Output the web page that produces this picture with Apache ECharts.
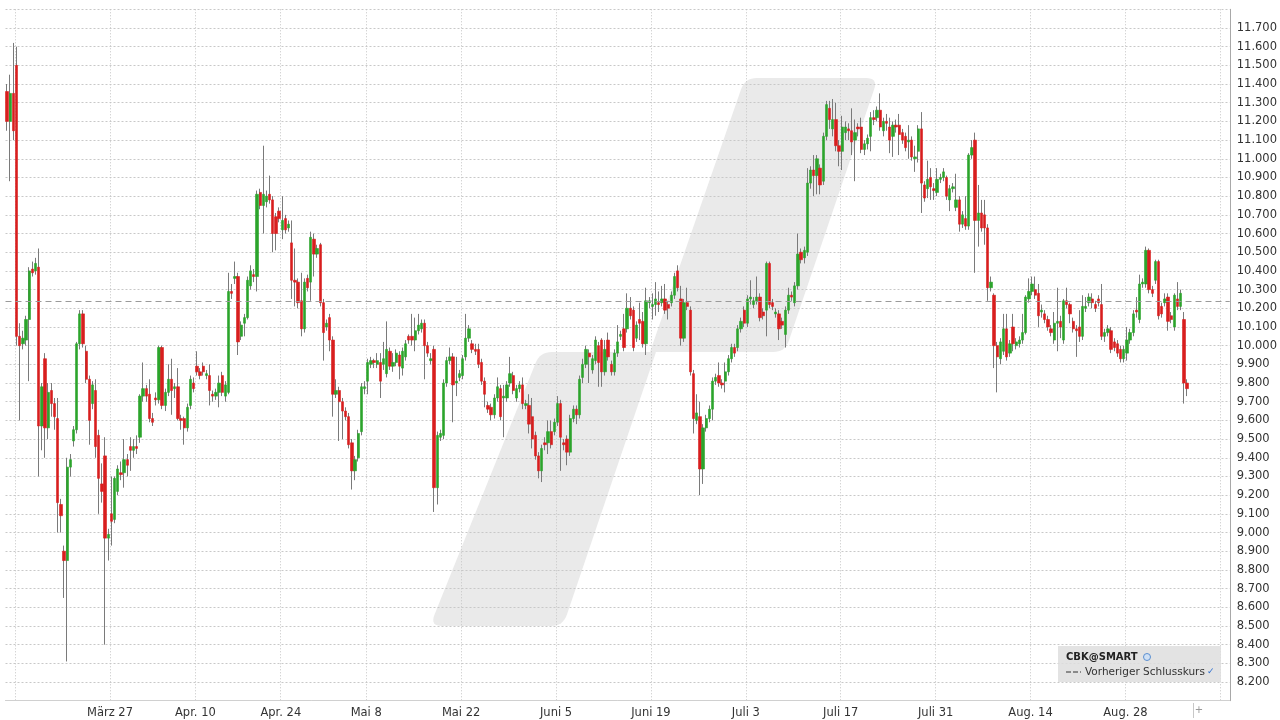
<!DOCTYPE html>
<html><head><meta charset="utf-8">
<script src="https://cdn.jsdelivr.net/npm/echarts@6/dist/echarts.min.js"></script>
<style>html,body{margin:0;padding:0;background:#fff}#c{width:1280px;height:720px}</style>
</head><body><div id="c"></div>
<script>
// ---- DATA ----
// candles: [open, close, low, high], three bars per trading day, starting 2023-03-10
const candles = [
[11.36,11.20,11.15,11.40],[11.20,11.35,10.88,11.45],[11.35,11.15,11.10,11.62],[11.50,10.05,10.00,11.60],[10.05,10.00,9.60,10.12],[10.01,10.04,9.98,10.08],[10.03,10.14,10.00,10.16],[10.14,10.40,9.81,10.42],[10.41,10.39,10.37,10.45],[10.40,10.44,10.38,10.47],
[10.42,9.57,9.30,10.52],[9.57,9.78,9.44,9.80],[9.93,9.56,9.40,9.96],[9.56,9.75,9.50,9.80],[9.76,9.69,9.62,9.80],[9.69,9.62,9.55,9.72],[9.61,9.16,9.00,9.72],[9.15,9.09,9.00,9.18],[8.90,8.85,8.65,8.93],[8.85,9.35,8.31,9.40],
[9.35,9.39,9.30,9.42],[9.49,9.55,9.46,9.57],[9.55,10.01,9.53,10.02],[10.01,10.17,9.98,10.19],[10.17,10.01,9.99,10.19],[9.97,9.82,9.80,10.00],[9.82,9.60,9.47,9.84],[9.69,9.79,9.66,9.81],[9.76,9.46,9.40,9.82],[9.52,9.29,9.10,9.55],
[9.26,9.22,9.16,9.37],[9.41,8.97,8.40,9.51],[8.97,8.99,8.85,9.02],[9.10,9.06,8.93,9.30],[9.07,9.29,9.05,9.30],[9.22,9.34,9.20,9.36],[9.32,9.31,9.28,9.38],[9.32,9.39,9.24,9.50],[9.39,9.36,9.30,9.42],[9.46,9.44,9.33,9.51],
[9.44,9.46,9.40,9.50],[9.46,9.45,9.42,9.52],[9.51,9.73,9.48,9.74],[9.73,9.77,9.70,9.91],[9.77,9.73,9.70,9.79],[9.74,9.61,9.59,9.82],[9.61,9.59,9.57,9.64],[9.72,9.71,9.68,9.75],[9.71,9.99,9.69,10.00],[9.99,9.68,9.66,10.00],
[9.68,9.75,9.65,9.77],[9.75,9.82,9.73,9.90],[9.82,9.76,9.63,9.93],[9.77,9.78,9.72,9.80],[9.78,9.61,9.60,9.88],[9.61,9.60,9.55,9.63],[9.61,9.56,9.47,9.62],[9.56,9.67,9.54,9.69],[9.68,9.82,9.66,9.84],[9.80,9.77,9.75,9.83],
[9.89,9.86,9.84,9.97],[9.86,9.84,9.82,9.88],[9.89,9.86,9.84,9.91],[9.84,9.85,9.82,9.87],[9.84,9.76,9.68,9.90],[9.74,9.73,9.70,9.76],[9.73,9.75,9.71,9.77],[9.75,9.80,9.67,9.84],[9.84,9.75,9.73,9.86],[9.73,9.79,9.70,9.81],
[9.75,10.29,9.74,10.39],[10.29,10.28,10.25,10.33],[10.36,10.37,10.33,10.45],[10.37,10.02,9.95,10.39],[10.05,10.11,10.03,10.13],[10.12,10.15,10.05,10.17],[10.15,10.35,10.14,10.37],[10.32,10.40,10.30,10.43],[10.38,10.37,10.34,10.41],[10.37,10.81,10.29,10.83],
[10.82,10.75,10.73,10.84],[10.75,10.81,10.60,11.07],[10.77,10.80,10.74,10.83],[10.81,10.78,10.76,10.91],[10.78,10.60,10.50,10.80],[10.69,10.60,10.51,10.71],[10.72,10.68,10.66,10.74],[10.62,10.67,10.57,10.80],[10.68,10.62,10.60,10.70],[10.63,10.65,10.61,10.67],
[10.55,10.35,10.25,10.67],[10.35,10.34,10.21,10.52],[10.34,10.23,10.20,10.36],[10.24,10.09,10.05,10.39],[10.09,10.34,10.07,10.36],[10.36,10.31,10.29,10.38],[10.34,10.58,10.24,10.61],[10.57,10.49,10.37,10.60],[10.49,10.52,10.47,10.54],[10.54,10.23,10.21,10.55],
[10.23,10.07,9.92,10.25],[10.10,10.12,10.08,10.14],[10.15,10.03,9.97,10.17],[10.03,9.74,9.62,10.05],[9.74,9.76,9.72,9.82],[9.76,9.70,9.49,9.78],[9.70,9.65,9.50,9.72],[9.65,9.62,9.60,9.67],[9.62,9.47,9.45,9.64],[9.48,9.33,9.23,9.50],
[9.33,9.39,9.28,9.41],[9.40,9.53,9.38,9.55],[9.54,9.78,9.52,9.80],[9.77,9.78,9.74,9.81],[9.81,9.91,9.74,9.93],[9.90,9.92,9.88,9.94],[9.92,9.91,9.88,9.93],[9.90,9.92,9.88,9.96],[9.91,9.81,9.72,9.96],[9.90,9.93,9.87,10.02],
[9.85,9.98,9.83,10.13],[9.97,9.89,9.87,9.99],[9.89,9.91,9.86,9.96],[9.91,9.96,9.89,9.98],[9.95,9.89,9.82,9.97],[9.88,9.97,9.84,9.99],[9.94,10.01,9.92,10.03],[10.05,10.03,10.01,10.06],[10.05,10.03,10.00,10.17],[10.03,10.08,9.97,10.15],
[10.08,10.11,10.06,10.17],[10.09,10.12,10.07,10.14],[10.12,10.00,9.82,10.14],[10.00,9.96,9.94,10.02],[9.92,9.93,9.90,9.96],[9.98,9.24,9.11,10.00],[9.24,9.52,9.15,9.54],[9.51,9.53,9.49,9.55],[9.52,9.80,9.50,9.82],[9.80,9.92,9.78,9.94],
[9.92,9.94,9.90,9.99],[9.94,9.79,9.59,9.96],[9.80,9.81,9.73,9.94],[9.83,9.85,9.81,9.87],[9.84,9.93,9.82,9.95],[9.94,10.04,9.92,10.17],[10.04,10.09,10.02,10.11],[10.01,9.98,9.96,10.03],[9.98,9.97,9.95,10.01],[9.98,9.90,9.88,10.01],
[9.91,9.81,9.79,9.93],[9.81,9.74,9.67,9.83],[9.68,9.66,9.64,9.70],[9.67,9.63,9.60,9.69],[9.63,9.72,9.61,9.74],[9.72,9.78,9.70,9.83],[9.77,9.62,9.60,9.79],[9.72,9.73,9.51,9.79],[9.72,9.79,9.70,9.81],[9.80,9.85,9.78,9.94],
[9.84,9.76,9.74,9.86],[9.72,9.77,9.70,9.79],[9.77,9.79,9.75,9.81],[9.79,9.69,9.66,9.83],[9.68,9.69,9.66,9.71],[9.68,9.58,9.53,9.74],[9.62,9.50,9.45,9.72],[9.52,9.41,9.39,9.54],[9.41,9.33,9.29,9.43],[9.33,9.45,9.27,9.47],
[9.48,9.47,9.44,9.51],[9.48,9.54,9.42,9.60],[9.54,9.47,9.45,9.60],[9.54,9.59,9.52,9.61],[9.59,9.69,9.57,9.73],[9.69,9.51,9.33,9.71],[9.48,9.47,9.44,9.50],[9.50,9.43,9.36,9.52],[9.43,9.61,9.41,9.63],[9.61,9.66,9.59,9.68],
[9.66,9.63,9.58,9.68],[9.63,9.82,9.61,9.84],[9.83,9.90,9.80,9.93],[9.90,9.98,9.88,10.00],[9.96,9.94,9.80,9.98],[9.87,9.93,9.85,9.95],[9.92,10.03,9.90,10.05],[10.00,9.91,9.78,10.02],[10.03,9.86,9.78,10.04],[9.86,9.98,9.84,10.03],
[10.03,9.94,9.92,10.07],[9.90,9.86,9.84,9.92],[9.86,9.96,9.84,9.98],[9.96,10.02,9.94,10.11],[10.05,10.06,10.03,10.08],[10.09,9.99,9.97,10.17],[10.09,10.20,10.07,10.28],[10.20,10.16,10.14,10.26],[10.19,9.99,9.97,10.21],[10.04,10.11,10.02,10.13],
[10.14,10.12,10.03,10.23],[10.13,10.01,9.99,10.18],[10.01,10.24,9.95,10.31],[10.23,10.24,10.20,10.26],[10.21,10.22,10.14,10.28],[10.22,10.25,10.16,10.34],[10.23,10.22,10.18,10.29],[10.23,10.25,10.21,10.32],[10.25,10.19,10.17,10.33],[10.22,10.20,10.14,10.24],
[10.23,10.27,10.21,10.29],[10.27,10.37,10.25,10.39],[10.40,10.31,10.29,10.43],[10.25,10.04,10.00,10.32],[10.04,10.23,10.02,10.25],[10.23,10.21,10.19,10.31],[10.19,9.86,9.84,10.21],[9.85,9.61,9.53,9.87],[9.60,9.64,9.58,9.74],[9.62,9.34,9.20,9.70],
[9.34,9.56,9.26,9.58],[9.56,9.61,9.54,9.63],[9.61,9.66,9.59,9.68],[9.66,9.81,9.60,9.83],[9.81,9.83,9.79,9.85],[9.84,9.80,9.78,9.91],[9.80,9.79,9.77,9.82],[9.81,9.86,9.75,9.91],[9.86,9.93,9.84,9.95],[9.93,9.99,9.91,10.01],
[9.99,9.96,9.94,10.01],[9.99,10.09,9.97,10.11],[10.09,10.13,10.07,10.15],[10.19,10.12,10.10,10.21],[10.12,10.25,10.10,10.27],[10.25,10.26,10.22,10.35],[10.22,10.24,10.20,10.26],[10.24,10.26,10.22,10.37],[10.26,10.15,10.13,10.28],[10.18,10.16,10.14,10.20],
[10.19,10.44,10.05,10.45],[10.44,10.22,10.20,10.45],[10.23,10.21,10.19,10.25],[10.17,10.18,10.15,10.20],[10.17,10.09,10.03,10.19],[10.13,10.11,10.09,10.15],[10.06,10.19,9.99,10.21],[10.19,10.27,10.17,10.31],[10.27,10.26,10.24,10.29],[10.23,10.32,10.21,10.34],
[10.32,10.49,10.30,10.60],[10.50,10.46,10.44,10.52],[10.47,10.51,10.44,10.53],[10.50,10.87,10.48,10.95],[10.87,10.94,10.84,10.96],[10.94,10.91,10.80,11.02],[10.91,11.00,10.81,11.02],[10.95,10.86,10.81,10.97],[10.88,11.12,10.86,11.14],[11.12,11.29,11.10,11.31],
[11.27,11.21,11.16,11.31],[11.16,11.21,11.12,11.32],[11.21,11.07,11.04,11.30],[11.07,11.04,10.96,11.10],[11.04,11.17,10.94,11.23],[11.14,11.17,11.10,11.20],[11.16,11.15,11.10,11.19],[11.15,11.09,11.02,11.27],[11.10,11.14,10.88,11.21],[11.17,11.16,11.12,11.19],
[11.17,11.05,11.03,11.22],[11.05,11.08,11.02,11.10],[11.08,11.11,11.05,11.13],[11.12,11.22,11.04,11.25],[11.22,11.21,11.18,11.26],[11.22,11.26,11.20,11.28],[11.26,11.17,11.15,11.35],[11.15,11.20,11.12,11.22],[11.20,11.19,11.15,11.24],[11.17,11.10,11.03,11.22],
[11.12,11.18,11.01,11.20],[11.18,11.17,11.14,11.21],[11.18,11.13,11.02,11.24],[11.14,11.10,11.08,11.16],[11.12,11.06,11.04,11.14],[11.09,11.10,11.00,11.18],[11.10,11.01,10.99,11.12],[11.00,11.01,10.93,11.07],[11.04,11.16,10.98,11.18],[11.16,10.87,10.71,11.25],
[10.86,10.79,10.77,10.88],[10.84,10.89,10.79,10.99],[10.90,10.85,10.78,10.95],[10.84,10.83,10.78,10.87],[10.82,10.89,10.80,10.95],[10.89,10.90,10.87,10.92],[10.90,10.93,10.88,10.95],[10.90,10.80,10.78,10.91],[10.78,10.84,10.72,10.86],[10.84,10.85,10.82,10.87],
[10.74,10.78,10.72,10.92],[10.78,10.65,10.61,10.80],[10.65,10.70,10.63,10.72],[10.68,10.64,10.62,10.80],[10.64,11.02,10.62,11.03],[11.02,11.06,11.00,11.10],[11.10,10.67,10.39,11.14],[10.67,10.71,10.53,10.86],[10.71,10.63,10.61,10.78],[10.70,10.63,10.54,10.78],
[10.63,10.31,10.24,10.65],[10.31,10.34,10.29,10.37],[10.27,10.00,9.88,10.28],[10.00,9.94,9.75,10.02],[9.93,10.02,9.90,10.04],[9.97,10.09,9.95,10.17],[10.09,9.94,9.92,10.17],[9.96,10.01,9.94,10.03],[10.10,10.01,9.97,10.17],[10.00,10.02,9.98,10.04],
[10.01,10.03,9.99,10.05],[10.03,10.07,10.01,10.17],[10.07,10.26,10.06,10.27],[10.25,10.29,10.23,10.36],[10.29,10.33,10.27,10.37],[10.30,10.27,10.25,10.37],[10.28,10.16,10.10,10.33],[10.18,10.19,10.15,10.22],[10.17,10.14,10.12,10.19],[10.14,10.10,10.08,10.16],
[10.09,10.07,10.05,10.11],[10.03,10.12,10.01,10.18],[10.12,10.13,9.97,10.31],[10.13,10.10,10.04,10.16],[10.03,10.24,10.01,10.25],[10.24,10.22,10.20,10.31],[10.22,10.17,10.12,10.23],[10.13,10.09,10.07,10.15],[10.09,10.08,9.94,10.11],[10.10,10.05,10.02,10.19],
[10.05,10.21,10.03,10.27],[10.20,10.21,10.18,10.26],[10.23,10.26,10.21,10.28],[10.25,10.23,10.20,10.28],[10.22,10.20,10.18,10.24],[10.25,10.23,10.21,10.27],[10.22,10.05,10.03,10.33],[10.05,10.07,10.02,10.09],[10.07,10.09,10.05,10.11],[10.08,9.98,9.96,10.10],
[10.02,9.99,9.97,10.04],[10.01,9.96,9.94,10.03],[9.98,9.93,9.91,10.00],[9.93,9.98,9.91,10.00],[9.96,10.03,9.92,10.10],[10.03,10.07,10.01,10.09],[10.07,10.17,10.05,10.19],[10.19,10.18,10.15,10.26],[10.14,10.33,10.12,10.38],[10.33,10.34,10.31,10.36],
[10.33,10.51,10.31,10.53],[10.51,10.30,10.28,10.52],[10.30,10.28,10.26,10.32],[10.35,10.45,10.33,10.46],[10.45,10.16,10.14,10.46],[10.21,10.17,10.15,10.23],[10.23,10.25,10.21,10.28],[10.26,10.13,10.08,10.28],[10.16,10.14,10.12,10.18],[10.10,10.27,10.08,10.28],
[10.25,10.21,10.19,10.34],[10.21,10.28,10.19,10.30],[10.14,9.80,9.69,10.18],[9.80,9.77,9.73,9.82]
];
const prevClose = 10.24;          // Vorheriger Schlusskurs
const lastPrice = 9.77;           // current price label
const startDay = '2023-03-10';
const endDay = '2023-09-11';
const holidays = ['2023-04-07', '2023-04-10', '2023-05-01'];
const barsPerDay = 3;
const tickDays = ['2023-03-13','2023-03-27','2023-04-11','2023-04-24','2023-05-08','2023-05-22','2023-06-05','2023-06-19','2023-07-03','2023-07-17','2023-07-31','2023-08-14','2023-08-28','2023-09-11'];
const tickLabels = ['','März 27','Apr. 10','Apr. 24','Mai 8','Mai 22','Juni 5','Juni 19','Juli 3','Juli 17','Juli 31','Aug. 14','Aug. 28',''];
const yMin = 8.1, yMax = 11.8, yStep = 0.1;

// ---- BUILD ----
function tradingDays(start, end, hol) {
  const out = [];
  let d = new Date(start + 'T12:00:00Z');
  const e = new Date(end + 'T12:00:00Z');
  while (d <= e) {
    const wd = d.getUTCDay();
    const s = d.toISOString().slice(0, 10);
    if (wd !== 0 && wd !== 6 && !hol.includes(s)) out.push(s);
    d = new Date(d.getTime() + 86400000);
  }
  return out;
}
const days = tradingDays(startDay, endDay, holidays);
const categories = [];
days.forEach(d => { for (let b = 0; b < barsPerDay; b++) categories.push(d + '#' + b); });
const labelOf = {};
tickDays.forEach((d, i) => { labelOf[d + '#0'] = tickLabels[i]; });
const isTick = (idx) => labelOf[categories[idx]] !== undefined;

const bodies = candles.map(c => [c[0], c[1], Math.min(c[0], c[1]), Math.max(c[0], c[1])]);

const FONT = 'DejaVu Sans';
const GREEN = '#2ca42c', RED = '#d81e1e', WICK = '#7a7a7a';

// rounded polygon (decorative watermark) sampled into points
function roundedPoints(pts, radii) {
  const out = [];
  const n = pts.length;
  for (let i = 0; i < n; i++) {
    const prev = pts[(i - 1 + n) % n], cur = pts[i], next = pts[(i + 1) % n];
    const r = radii[i];
    const d1 = Math.hypot(cur[0] - prev[0], cur[1] - prev[1]);
    const d2 = Math.hypot(next[0] - cur[0], next[1] - cur[1]);
    const a = [cur[0] + (prev[0] - cur[0]) * r / d1, cur[1] + (prev[1] - cur[1]) * r / d1];
    const b = [cur[0] + (next[0] - cur[0]) * r / d2, cur[1] + (next[1] - cur[1]) * r / d2];
    for (let k = 0; k <= 8; k++) {
      const t = k / 8, u = 1 - t;
      out.push([u * u * a[0] + 2 * u * t * cur[0] + t * t * b[0], u * u * a[1] + 2 * u * t * cur[1] + t * t * b[1]]);
    }
  }
  return out;
}
const wmLower = roundedPoints([[430,626],[563,626],[656,352],[540,352]], [12,12,1,12]);
const wmUpper = roundedPoints([[650,352],[785,352],[878,78],[745,78]], [1,12,12,12]);

const chart = echarts.init(document.getElementById('c'), null, { renderer: 'canvas' });
chart.setOption({
  animation: false,
  backgroundColor: '#ffffff',
  grid: { left: 5.5, top: 9.3, width: 1225.5, height: 691.4, containLabel: false },
  xAxis: {
    type: 'category', data: categories, boundaryGap: true,
    axisLine: { show: true, lineStyle: { color: '#d0d0d0' } },
    axisTick: { show: false },
    axisLabel: {
      interval: (idx) => isTick(idx), formatter: (v) => labelOf[v] || '',
      color: '#333', fontFamily: FONT, fontSize: 11.5, margin: 6, padding: [0, 3, 0, 0]
    },
    splitLine: { show: true, interval: (idx) => isTick(idx), lineStyle: { color: '#c4c4c4', type: [1, 2], width: 1 } }
  },
  yAxis: {
    type: 'value', position: 'right', min: yMin, max: yMax, interval: yStep,
    axisLine: { show: true, lineStyle: { color: '#a8a8a8' } },
    axisTick: { show: false },
    axisLabel: { showMinLabel: false, showMaxLabel: false, formatter: v => v.toFixed(3), color: '#333', fontFamily: FONT, fontSize: 11.5, margin: 7 },
    splitLine: { show: true, lineStyle: { color: '#c8c8c8', type: [2, 2], width: 1 } }
  },
  series: [
    {
      type: 'candlestick', name: 'wick', data: candles, barWidth: 1, silent: true, z: 3,
      itemStyle: { color: WICK, color0: WICK, borderColor: WICK, borderColor0: WICK, borderWidth: 1 },
      markLine: {
        silent: true, symbol: 'none', animation: false,
        data: [
          { yAxis: prevClose, lineStyle: { color: '#9a9a9a', type: [6, 4], width: 1 }, label: { show: false } },
          { yAxis: lastPrice, lineStyle: { opacity: 0, width: 0 },
            label: { show: true, position: 'end', distance: 5, formatter: lastPrice.toFixed(3),
                     backgroundColor: '#dfe03c', color: '#333', fontFamily: FONT, fontSize: 11.5, padding: [2, 2, 1, 2] } }
        ]
      }
    },
    {
      type: 'candlestick', name: 'CBK@SMART', data: bodies, barWidth: 2.8, silent: true, z: 4,
      itemStyle: { color: GREEN, color0: RED, borderColor: GREEN, borderColor0: RED, borderWidth: 0.6 }
    }
  ],
  graphic: [
    { type: 'polygon', z: -10, silent: true, shape: { points: wmLower }, style: { fill: '#eaeaea' } },
    { type: 'polygon', z: -10, silent: true, shape: { points: wmUpper }, style: { fill: '#eaeaea' } },
    { type: 'rect', z: 50, silent: true, shape: { x: 1058, y: 646, width: 163, height: 36 }, style: { fill: 'rgba(222,222,222,0.85)' } },
    { type: 'text', z: 51, silent: true, style: { x: 1066, y: 657, text: 'CBK@SMART', fill: '#222', font: 'bold 10px "DejaVu Sans"', verticalAlign: 'middle' } },
    { type: 'circle', z: 51, silent: true, shape: { cx: 1147, cy: 657, r: 3.5 }, style: { fill: '#cfe0f4', stroke: '#5b8fd0', lineWidth: 1 } },
    { type: 'line', z: 51, silent: true, shape: { x1: 1066, y1: 672, x2: 1081, y2: 672 }, style: { stroke: '#333', lineWidth: 1, lineDash: [5, 2] } },
    { type: 'text', z: 51, silent: true, style: { x: 1085, y: 672, text: 'Vorheriger Schlusskurs', fill: '#333', font: '10.5px "DejaVu Sans"', verticalAlign: 'middle' } },
    { type: 'text', z: 51, silent: true, style: { x: 1207, y: 672, text: '✓', fill: '#2d6fd0', font: 'bold 9px "DejaVu Sans"', verticalAlign: 'middle' } },
    { type: 'line', z: 51, silent: true, shape: { x1: 1193.5, y1: 703, x2: 1193.5, y2: 718 }, style: { stroke: '#c8c8c8', lineWidth: 1 } },
    { type: 'text', z: 51, silent: true, style: { x: 1199, y: 710, text: '+', fill: '#999', font: '10px "DejaVu Sans"', align: 'center', verticalAlign: 'middle' } }
  ]
});
</script>
</body></html>
